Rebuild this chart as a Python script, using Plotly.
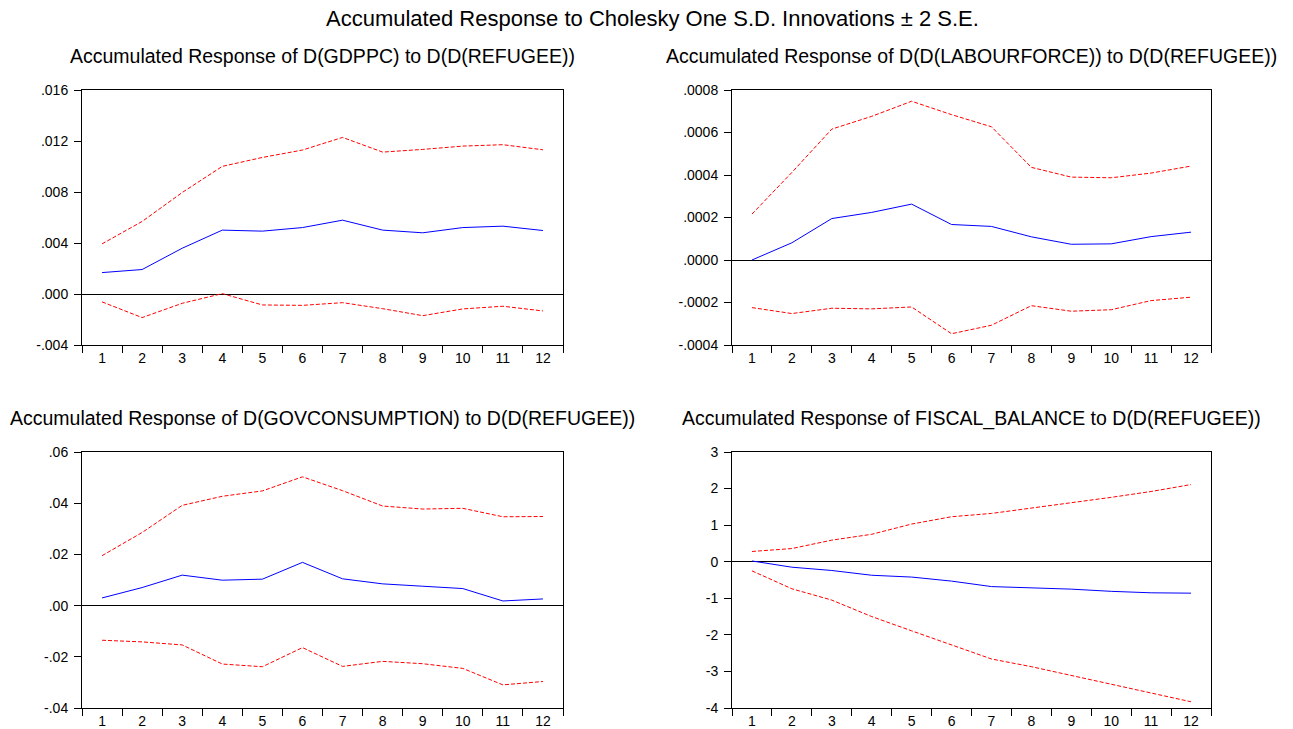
import plotly.graph_objects as go

periods = list(range(1, 13))

# Panel 1: D(GDPPC)
gdp_resp = [0.00168, 0.00192, 0.00359, 0.00501, 0.00493, 0.00521, 0.00579, 0.00501, 0.00480, 0.00521, 0.00532, 0.00498]
gdp_upper = [0.00393, 0.00569, 0.00796, 0.01001, 0.01071, 0.01129, 0.01228, 0.01113, 0.01134, 0.01160, 0.01171, 0.01131]
gdp_lower = [-0.00062, -0.00185, -0.00073, 0.00003, -0.00086, -0.00089, -0.00068, -0.00115, -0.00170, -0.00117, -0.00096, -0.00133]

# Panel 2: D(D(LABOURFORCE))
lab_resp = [0.0, 0.000081, 0.000195, 0.000224, 0.000263, 0.000167, 0.000158, 0.000109, 0.000074, 0.000076, 0.000110, 0.000131]
lab_upper = [0.000216, 0.000412, 0.000616, 0.000676, 0.000747, 0.000684, 0.000627, 0.000436, 0.000390, 0.000387, 0.000409, 0.000442]
lab_lower = [-0.000224, -0.000252, -0.000227, -0.000230, -0.000221, -0.000347, -0.000307, -0.000215, -0.000241, -0.000234, -0.000191, -0.000175]

# Panel 3: D(GOVCONSUMPTION)
gov_resp = [0.00299, 0.00705, 0.0119, 0.00993, 0.01033, 0.01688, 0.01046, 0.00849, 0.00757, 0.00666, 0.00181, 0.0026]
gov_upper = [0.0195, 0.02855, 0.03916, 0.0427, 0.0448, 0.0503, 0.0449, 0.0389, 0.03772, 0.0380, 0.0347, 0.0348]
gov_lower = [-0.01353, -0.01418, -0.01536, -0.02283, -0.02388, -0.01641, -0.02375, -0.02178, -0.0227, -0.02453, -0.03096, -0.02965]

# Panel 4: FISCAL_BALANCE
fis_resp = [0.02, -0.15, -0.24, -0.37, -0.42, -0.53, -0.68, -0.71, -0.75, -0.81, -0.85, -0.86]
fis_upper = [0.28, 0.36, 0.59, 0.75, 1.03, 1.23, 1.32, 1.46, 1.61, 1.76, 1.92, 2.11]
fis_lower = [-0.25, -0.74, -1.05, -1.50, -1.89, -2.28, -2.66, -2.87, -3.11, -3.37, -3.61, -3.83]

main_title = "Accumulated Response to Cholesky One S.D. Innovations \u00b1 2 S.E."
panel_titles = [
    "Accumulated Response of D(GDPPC) to D(D(REFUGEE))",
    "Accumulated Response of D(D(LABOURFORCE)) to D(D(REFUGEE))",
    "Accumulated Response of D(GOVCONSUMPTION) to D(D(REFUGEE))",
    "Accumulated Response of FISCAL_BALANCE to D(D(REFUGEE))",
]

gdp_ticks = [-0.004, 0.0, 0.004, 0.008, 0.012, 0.016]
gdp_ticktext = ["-.004", ".000", ".004", ".008", ".012", ".016"]
lab_ticks = [-0.0004, -0.0002, 0.0, 0.0002, 0.0004, 0.0006, 0.0008]
lab_ticktext = ["-.0004", "-.0002", ".0000", ".0002", ".0004", ".0006", ".0008"]
gov_ticks = [-0.04, -0.02, 0.0, 0.02, 0.04, 0.06]
gov_ticktext = ["-.04", "-.02", ".00", ".02", ".04", ".06"]
fis_ticks = [-4, -3, -2, -1, 0, 1, 2, 3]
fis_ticktext = ["-4", "-3", "-2", "-1", "0", "1", "2", "3"]

W, H = 1293, 729
FONT = "Liberation Sans, Arial, sans-serif"


def px_x(v):
    return v / W


def px_y(v):
    return 1 - v / H


panels = [
    dict(resp=gdp_resp, up=gdp_upper, lo=gdp_lower, tv=gdp_ticks, tt=gdp_ticktext, px=(82, 563), py=(90, 345), ty=56),
    dict(resp=lab_resp, up=lab_upper, lo=lab_lower, tv=lab_ticks, tt=lab_ticktext, px=(732, 1211), py=(90, 345), ty=56),
    dict(resp=gov_resp, up=gov_upper, lo=gov_lower, tv=gov_ticks, tt=gov_ticktext, px=(82, 563), py=(452, 708), ty=418),
    dict(resp=fis_resp, up=fis_upper, lo=fis_lower, tv=fis_ticks, tt=fis_ticktext, px=(732, 1211), py=(452, 708), ty=418),
]

fig = go.Figure()
annotations = [dict(text=main_title, x=px_x(652), y=px_y(18), xref="paper", yref="paper",
                    showarrow=False, font=dict(family=FONT, size=22, color="black"),
                    xanchor="center", yanchor="middle")]
layout_axes = {}
for i, p in enumerate(panels):
    n = i + 1
    xa = "x" if n == 1 else f"x{n}"
    ya = "y" if n == 1 else f"y{n}"
    for series, color, dash in [(p["up"], "#FF0000", "4px,2px"), (p["lo"], "#FF0000", "4px,2px"), (p["resp"], "#0000FF", "solid")]:
        fig.add_trace(go.Scatter(x=periods, y=series, mode="lines", xaxis=xa, yaxis=ya,
                                 line=dict(color=color, width=1, dash=dash), showlegend=False,
                                 hoverinfo="skip"))
    x0, x1 = p["px"]
    y0, y1 = p["py"]
    layout_axes[f"xaxis{'' if n == 1 else n}"] = dict(
        domain=[px_x(x0), px_x(x1)], anchor=ya, range=[0.5, 12.5],
        tickmode="array", tickvals=periods, ticktext=[str(v) for v in periods],
        ticks="", showgrid=False, zeroline=False, automargin=False,
        showline=True, mirror=True, linecolor="black", linewidth=1,
        tickfont=dict(family=FONT, size=14, color="black"),
        ticklabelstandoff=0,
        minor=dict(tickmode="linear", tick0=0.5, dtick=1, ticks="outside", ticklen=7,
                   tickcolor="black", tickwidth=1, showgrid=False),
    )
    lo_r, hi_r = p["tv"][0], p["tv"][-1]
    layout_axes[f"yaxis{'' if n == 1 else n}"] = dict(
        domain=[px_y(y1), px_y(y0)], anchor=xa, range=[lo_r, hi_r],
        tickmode="array", tickvals=p["tv"], ticktext=p["tt"],
        ticks="outside", ticklen=7, tickcolor="black", showgrid=False, automargin=False,
        zeroline=True, zerolinecolor="black", zerolinewidth=1,
        showline=True, mirror=True, linecolor="black", linewidth=1,
        tickfont=dict(family=FONT, size=14, color="black"),
        ticklabelstandoff=3,
    )
    annotations.append(dict(text=panel_titles[i], x=px_x((x0 + x1) / 2), y=px_y(p["ty"]),
                            xref="paper", yref="paper", showarrow=False,
                            font=dict(family=FONT, size=19.5, color="black"),
                            xanchor="center", yanchor="middle"))

fig.update_layout(width=W, height=H, autosize=False, margin=dict(l=0, r=0, t=0, b=0, autoexpand=False),
                  paper_bgcolor="white", plot_bgcolor="white",
                  annotations=annotations, **layout_axes)
fig.write_html("out.html", config={"displayModeBar": False},
               post_script="document.body.style.margin='0';document.body.style.overflow='hidden';"
                           "document.documentElement.style.overflow='hidden';")
